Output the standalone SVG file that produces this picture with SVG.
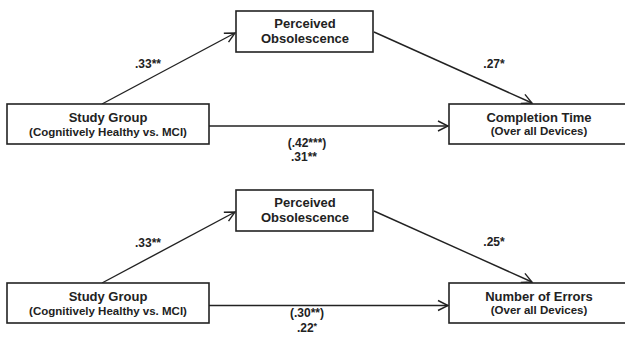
<svg xmlns="http://www.w3.org/2000/svg" width="625" height="339" viewBox="0 0 625 339">
<defs>
<style>
.box{fill:#fff;stroke:#222;stroke-width:1.6}
.ln{fill:none;stroke:#222;stroke-width:1.4}
.t1{font-family:"Liberation Sans",Arial,sans-serif;font-weight:bold;font-size:13px;fill:#222;text-anchor:middle}
.t2{font-family:"Liberation Sans",Arial,sans-serif;font-weight:bold;font-size:11.5px;fill:#222;text-anchor:middle}
.lb{font-family:"Liberation Sans",Arial,sans-serif;font-weight:bold;font-size:12px;fill:#222;text-anchor:middle}
</style>
<marker id="ah" markerUnits="userSpaceOnUse" markerWidth="14" markerHeight="14" viewBox="-12 -7 14 14" refX="0" refY="0" orient="auto">
<path d="M-10,-5 L0,0 L-10,5" fill="none" stroke="#222" stroke-width="1.4"/>
</marker>
</defs>
<rect width="625" height="339" fill="#fff"/>

<g id="top">
<g id="connectors-top">
<line class="ln" x1="102" y1="104" x2="235" y2="33" marker-end="url(#ah)"/>
<line class="ln" x1="374" y1="32" x2="532" y2="103" marker-end="url(#ah)"/>
<line class="ln" x1="209" y1="126" x2="448" y2="126" marker-end="url(#ah)"/>
</g>
<g id="study1"><rect class="box" x="7" y="104" width="202" height="40"/>
<text class="t1" x="108" y="122">Study Group</text>
<text class="t2" x="108" y="136">(Cognitively Healthy vs. MCI)</text></g>
<g id="perceived1"><rect class="box" x="236" y="11" width="137" height="41"/>
<text class="t1" x="305" y="28">Perceived</text>
<text class="t1" x="305" y="43">Obsolescence</text></g>
<g id="completion"><rect class="box" x="449" y="104" width="180" height="40"/>
<text class="t1" x="539" y="122">Completion Time</text>
<text class="t2" x="539" y="135">(Over all Devices)</text></g>
<text class="lb" x="148" y="68">.33**</text>
<text class="lb" x="494" y="68">.27*</text>
<text class="lb" x="307" y="147">(.42***)</text>
<text class="lb" x="304" y="161">.31**</text>
</g>

<g id="bottom">
<g id="connectors-bottom">
<line class="ln" x1="102" y1="283" x2="235" y2="212" marker-end="url(#ah)"/>
<line class="ln" x1="374" y1="211" x2="532" y2="282" marker-end="url(#ah)"/>
<line class="ln" x1="209" y1="305.5" x2="448" y2="305.5" marker-end="url(#ah)"/>
</g>
<g id="study2"><rect class="box" x="7" y="283" width="202" height="40"/>
<text class="t1" x="108" y="301">Study Group</text>
<text class="t2" x="108" y="315">(Cognitively Healthy vs. MCI)</text></g>
<g id="perceived2"><rect class="box" x="236" y="190" width="137" height="41"/>
<text class="t1" x="305" y="207">Perceived</text>
<text class="t1" x="305" y="222">Obsolescence</text></g>
<g id="errors"><rect class="box" x="449" y="283" width="180" height="40"/>
<text class="t1" x="539" y="301">Number of Errors</text>
<text class="t2" x="539" y="314">(Over all Devices)</text></g>
<text class="lb" x="148" y="247">.33**</text>
<text class="lb" x="494" y="246">.25*</text>
<text class="lb" x="307" y="317">(.30**)</text>
<text class="lb" x="307" y="332">.22<tspan font-size="9" dy="-3">*</tspan></text>
</g>
</svg>
